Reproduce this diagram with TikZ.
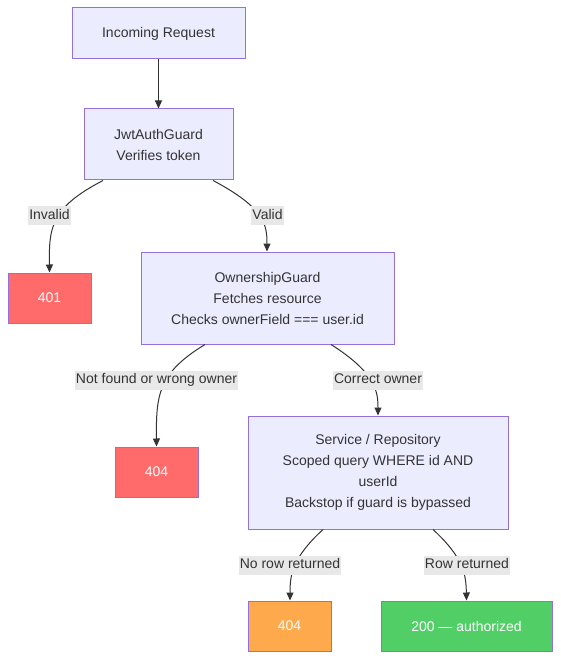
\documentclass[tikz,border=0pt]{standalone}
\usepackage{fontspec}
\setmainfont{Liberation Sans}
\usetikzlibrary{arrows.meta,calc}
\definecolor{mfill}{HTML}{ECECFF}
\definecolor{mstroke}{HTML}{9370DB}
\definecolor{mtext}{HTML}{333333}
\definecolor{lblgray}{HTML}{E8E8E8}
\definecolor{mred}{HTML}{FF6B6B}
\definecolor{morange}{HTML}{FFA94D}
\definecolor{mgreen}{HTML}{51CF66}
\begin{document}
\begin{tikzpicture}[x=1pt,y=-1pt,
  box/.style={draw=mstroke, fill=mfill, line width=1pt, text=mtext, align=center, inner sep=0pt,
    font=\fontsize{14}{21}\selectfont},
  redbox/.style={box, fill=mred, text=white},
  orangebox/.style={box, fill=morange, text=white},
  greenbox/.style={box, fill=mgreen, text=white},
  conn/.style={draw=mtext, line width=1pt, -{Triangle[length=8pt,width=7pt]}},
  lbl/.style={fill=lblgray, text=mtext, inner xsep=1pt, inner ysep=3pt, font=\fontsize{14}{16}\selectfont, text height=10pt, text depth=3pt}
]
\useasboundingbox (0,0) rectangle (560,660);
\fill[white] (0,0) rectangle (560,660);

\node[box, minimum width=173pt, minimum height=51pt] (req) at (158.5,33.5) {Incoming Request};
\node[box, minimum width=149pt, minimum height=71pt] (jwt) at (158.5,144.5) {JwtAuthGuard\\Verifies token};
\node[redbox, minimum width=83pt, minimum height=50pt] (e401) at (49.5,298) {401};
\node[box, minimum width=253pt, minimum height=92pt] (own) at (267.5,298) {OwnershipGuard\\Fetches resource\\Checks ownerField === user.id};
\node[redbox, minimum width=83pt, minimum height=50pt] (e404a) at (156.5,472) {404};
\node[box, minimum width=260pt, minimum height=113pt] (svc) at (378,472.5) {Service / Repository\\Scoped query WHERE id AND\\userId\\Backstop if guard is bypassed};
\node[orangebox, minimum width=83pt, minimum height=50pt] (e404b) at (289.5,626) {404};
\node[greenbox, minimum width=171pt, minimum height=50pt] (ok) at (466.5,626) {200 — authorized};

\draw[conn] (req.south) -- (jwt.north);
\draw[conn] ([xshift=-55.5pt]jwt.south) .. controls (50,208) and (49,228) .. (e401.north);
\draw[conn] ([xshift=54.5pt]jwt.south) .. controls (265,208) and (267,225) .. ([xshift=-0.5pt]own.north);
\draw[conn] ([xshift=-62.5pt]own.south) .. controls (158,373) and (156,395) .. (e404a.north);
\draw[conn] ([xshift=63.5pt]own.south) .. controls (376,373) and (378,392) .. (svc.north);
\draw[conn] ([xshift=-55pt]svc.south) .. controls (292,558) and (290,575) .. ([xshift=0.5pt]e404b.north);
\draw[conn] ([xshift=55pt]svc.south) .. controls (464,558) and (466,575) .. (ok.north);

\node[lbl] (l1) at (49.5,215.5) {Invalid};
\node[lbl] (l2) at (267.5,215.5) {Valid};
\node[lbl] (l3) at (156.5,380) {Not found or wrong owner};
\node[lbl] (l4) at (378,380) {Correct owner};
\node[lbl] (l5) at (290,565) {No row returned};
\node[lbl] (l6) at (467,565) {Row returned};
\end{tikzpicture}
\end{document}
